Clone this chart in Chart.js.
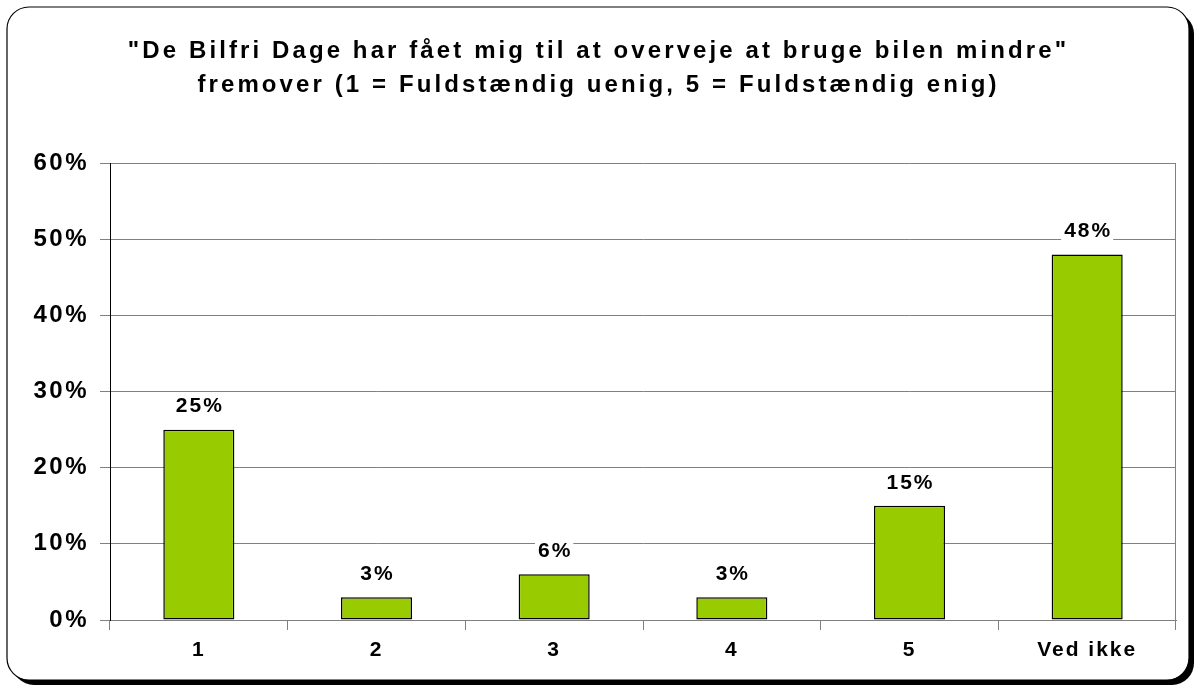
<!DOCTYPE html>
<html>
<head>
<meta charset="utf-8">
<script src="https://cdn.jsdelivr.net/npm/chart.js@4"></script>
<style>
  html, body { margin: 0; padding: 0; background: #fff; }
  #wrap { width: 1197px; height: 688px; }
</style>
</head>
<body>
<div id="wrap"><canvas id="chart" width="1197" height="688"></canvas></div>
<script>
const categories = ["1", "2", "3", "4", "5", "Ved ikke"];
const shares = [25, 3, 6, 3, 15, 48];
const yTicks = [0, 10, 20, 30, 40, 50, 60];
const titleLines = [
    "\"De Bilfri Dage har fået mig til at overveje at bruge bilen mindre\"",
    "fremover (1 = Fuldstændig uenig, 5 = Fuldstændig enig)"
];

const FONT = "'Liberation Sans', Arial, sans-serif";

// the old chart image has wide letter spacing, canvas can do that per draw
function spaced(scale, px) {
    if (scale._spaced) return;
    const orig = scale.drawLabels;
    scale.drawLabels = function (area) {
        const ctx = this.ctx;
        ctx.save();
        ctx.letterSpacing = px;
        orig.call(this, area);
        ctx.restore();
    };
    scale._spaced = true;
}

// rounded frame with a dark drop shadow, like the original
const framePlugin = {
    id: 'frame',
    beforeDraw(chart) {
        const ctx = chart.ctx;
        spaced(chart.scales.x, '2px');
        spaced(chart.scales.y, '2.5px');
        ctx.save();
        const x = 7, y = 7, w = 1182, h = 673, r = 22;
        ctx.fillStyle = '#000';
        ctx.beginPath();
        ctx.roundRect(x + 5, y + 5, w, h, r);
        ctx.fill();
        ctx.fillStyle = '#fff';
        ctx.strokeStyle = '#000';
        ctx.lineWidth = 1.2;
        ctx.beginPath();
        ctx.roundRect(x, y, w, h, r);
        ctx.fill();
        ctx.stroke();
        ctx.restore();
        ctx.letterSpacing = '3.1px'; // title
    },
    afterDraw(chart) {
        // right border of the plot area
        const ctx = chart.ctx;
        const a = chart.chartArea;
        ctx.save();
        ctx.strokeStyle = '#808080';
        ctx.lineWidth = 1;
        ctx.beginPath();
        ctx.moveTo(a.right - 0.5, a.top);
        ctx.lineTo(a.right - 0.5, a.bottom);
        ctx.stroke();
        ctx.restore();
    }
};

// value labels above the bars, on a white box
const valueLabels = {
    id: 'valueLabels',
    afterDatasetsDraw(chart) {
        const ctx = chart.ctx;
        const meta = chart.getDatasetMeta(0);
        ctx.save();
        ctx.letterSpacing = '2px';
        ctx.font = 'bold 21px ' + FONT;
        ctx.textAlign = 'center';
        ctx.textBaseline = 'middle';
        meta.data.forEach((bar, i) => {
            const txt = shares[i] + '%';
            const w = ctx.measureText(txt).width + 4;
            const cy = bar.y - 24;
            ctx.fillStyle = '#fff';
            ctx.fillRect(bar.x - w / 2, cy - 12, w, 24);
            ctx.fillStyle = '#000';
            ctx.fillText(txt, bar.x + 1, cy + 1);
        });
        ctx.restore();
    }
};

new Chart(document.getElementById('chart'), {
    type: 'bar',
    data: {
        labels: categories,
        datasets: [{
            data: shares,
            backgroundColor: '#99CC00',
            borderColor: '#000',
            borderWidth: 1.5,
            borderSkipped: false,
            barPercentage: 0.4,
            categoryPercentage: 1
        }]
    },
    options: {
        responsive: false,
        animation: false,
        layout: { padding: { left: 21, right: 21, top: 0, bottom: 0 } },
        plugins: {
            legend: { display: false },
            tooltip: { enabled: false },
            title: {
                display: true,
                text: titleLines,
                color: '#000',
                font: { family: FONT, size: 24, weight: 'bold', lineHeight: 1.42 },
                padding: { top: 34, bottom: 61 }
            }
        },
        scales: {
            x: {
                grid: {
                    offset: true,
                    drawOnChartArea: false,
                    drawTicks: true,
                    tickLength: 10,
                    color: '#808080'
                },
                border: { color: '#808080', width: 1 },
                ticks: {
                    color: '#000',
                    font: { family: FONT, size: 21, weight: 'bold' },
                    padding: 8
                },
                afterFit(s) { s.height = 68; }
            },
            y: {
                min: 0,
                max: 60,
                afterBuildTicks(s) { s.ticks = yTicks.map(v => ({ value: v })); },
                grid: {
                    color: '#808080',
                    tickLength: 10,
                    drawTicks: true
                },
                border: { color: '#000', width: 1 },
                ticks: {
                    color: '#000',
                    font: { family: FONT, size: 24, weight: 'bold' },
                    padding: 11,
                    callback: v => v + '%'
                },
                afterFit(s) { s.width = 89; }
            }
        }
    },
    plugins: [framePlugin, valueLabels]
});
</script>
</body>
</html>
